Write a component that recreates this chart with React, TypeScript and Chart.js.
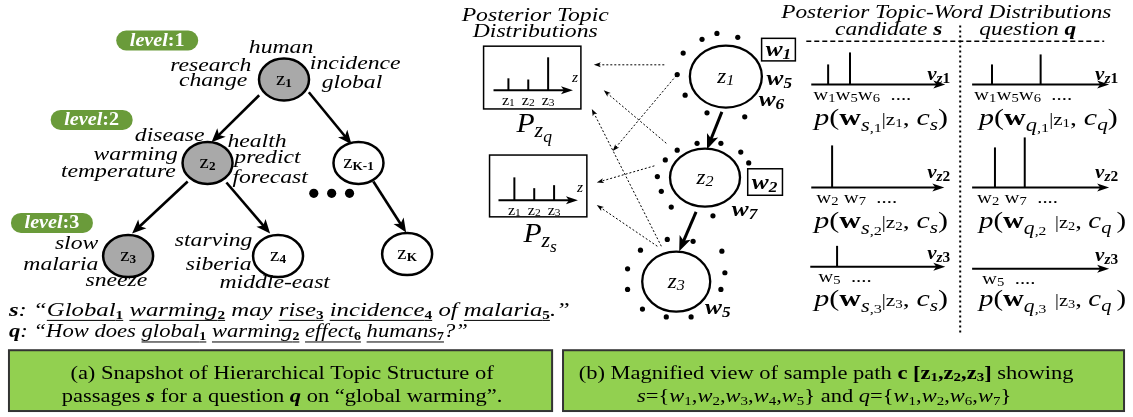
import React, { useEffect, useRef } from "react";
import { Chart, registerables } from "chart.js";
Chart.register(...registerables);

// ---------------- data ----------------
const levelLabels = ["1", "2", "3"];
const levelPillX = [113, 47, 7];
const levelPillY = [27, 108, 213];

const treeNodeSubs = ["1", "2", "K-1", "3", "4", "K"];
const treeNodeX = [282, 205, 357, 125, 276, 406];
const treeNodeY = [77, 162, 162, 257, 257, 255];
const treeNodeShaded = [true, true, false, true, false, false];
const treeEdgeFrom = [[257, 93], [307, 90], [185, 181], [224, 182], [372, 181]];
const treeEdgeTo = [[209, 141], [350, 143], [129, 234], [268, 234], [405, 233]];
const ellipsisX = [312, 330, 348];
const ellipsisY = [193, 193, 193];

const treeWordText = ["human", "research", "change", "incidence", "global", "disease", "warming", "temperature", "health", "predict", "forecast", "slow", "malaria", "sneeze", "starving", "siberia", "middle-east"];
const treeWordX = [279, 249, 245, 308, 320, 202, 175, 173, 225, 232, 230, 95, 95, 82, 172, 183, 217];
const treeWordY = [50, 68, 84, 66, 86, 140, 159, 176, 146, 162, 183, 250, 271, 288, 247, 271, 290];
const treeWordAlign = ["center", "right", "right", "left", "left", "right", "right", "right", "left", "left", "left", "right", "right", "left", "left", "left", "left"];

const topicCats = ["1", "2", "3"];
const pzqValues = [0.2, 0.18, 0.55];
const pzsValues = [0.38, 0.2, 0.25];

const pathNodeSubs = ["1", "2", "3"];
const pathNodeX = [727, 706, 677];
const pathNodeY = [74, 177, 283];

const dotX = [703, 718, 739, 684, 678, 686, 708, 746, 698, 722, 678, 742, 666, 750, 658, 662, 672, 714, 668, 694, 641, 723, 628, 726, 628, 722, 643, 667, 692];
const dotY = [36, 30, 34, 50, 72, 93, 111, 115, 142, 142, 149, 151, 159, 162, 176, 191, 207, 216, 240, 242, 251, 252, 270, 274, 291, 291, 311, 319, 319];

const flowFrom = [[665, 62], [667, 142], [677, 73], [662, 247], [655, 165], [658, 247]];
const flowTo = [[594, 62], [604, 88], [613, 150], [592, 107], [597, 182], [597, 205]];

const vocabRow1 = ["1", "5", "6"];
const vocabRow2 = ["2", "7"];
const vocabRow3 = ["5"];
const pS1 = [0.4, 0.64, 0];
const pQ1 = [0.4, 0, 0.6];
const pS2 = [0.84, 0];
const pQ2 = [0.8, 1.0];
const pS3 = [0.42];
const pQ3 = [0];

const sWords = ["1", "2", "3", "4", "5"];
const qWords = ["1", "2", "6", "7"];

// ---------------- drawing helpers ----------------
const SERIF = '"Liberation Serif", "Times New Roman", serif';
const SX = 1.27;

type Run = { t: string; s: number; i?: boolean; b?: boolean; dy?: number; u?: boolean; c?: string };

function fnt(r: Run) {
  return `${r.i ? "italic " : ""}${r.b ? "bold " : ""}${r.s}px ${SERIF}`;
}

function rich(ctx: CanvasRenderingContext2D, runs: Run[], x: number, y: number, align = "left", sx = SX) {
  let total = 0;
  const ws = runs.map((r) => {
    ctx.font = fnt(r);
    const w = ctx.measureText(r.t).width * sx;
    total += w;
    return w;
  });
  let cx = align === "left" ? x : align === "center" ? x - total / 2 : x - total;
  ctx.textAlign = "left";
  ctx.textBaseline = "alphabetic";
  runs.forEach((r, k) => {
    ctx.font = fnt(r);
    ctx.fillStyle = r.c || "#000";
    ctx.save();
    ctx.translate(cx, y + (r.dy || 0));
    ctx.scale(sx, 1);
    ctx.fillText(r.t, 0, 0);
    ctx.restore();
    if (r.u) {
      ctx.beginPath();
      ctx.strokeStyle = "#000";
      ctx.lineWidth = 1;
      ctx.moveTo(cx, y + 4.5);
      ctx.lineTo(cx + ws[k], y + 4.5);
      ctx.stroke();
    }
    cx += ws[k];
  });
  return total;
}

function arrow(ctx: CanvasRenderingContext2D, x1: number, y1: number, x2: number, y2: number, lw: number, hl: number, hw: number, dash?: number[]) {
  const a = Math.atan2(y2 - y1, x2 - x1);
  const c = Math.cos(a), s = Math.sin(a);
  const bx = x2 - hl * c, by = y2 - hl * s;
  ctx.save();
  ctx.lineWidth = lw;
  ctx.strokeStyle = "#000";
  ctx.fillStyle = "#000";
  if (dash) ctx.setLineDash(dash);
  ctx.beginPath();
  ctx.moveTo(x1, y1);
  ctx.lineTo(x2 - hl * 0.6 * c, y2 - hl * 0.6 * s);
  ctx.stroke();
  ctx.setLineDash([]);
  ctx.beginPath();
  ctx.moveTo(x2, y2);
  ctx.lineTo(bx + (hw / 2) * s, by - (hw / 2) * c);
  ctx.lineTo(x2 - hl * 0.75 * c, y2 - hl * 0.75 * s);
  ctx.lineTo(bx - (hw / 2) * s, by + (hw / 2) * c);
  ctx.closePath();
  ctx.fill();
  ctx.restore();
}

function stems(ctx: CanvasRenderingContext2D, X: (v: number) => number, Y: (v: number) => number, x0: number, x1: number, y: number, values: number[], off: number, spacing: number, unit: number) {
  arrow(ctx, X(x0), Y(y), X(x1), Y(y), 2, 12, 8);
  ctx.save();
  ctx.lineWidth = 2;
  ctx.strokeStyle = "#000";
  values.forEach((v, k) => {
    if (v <= 0) return;
    const xx = X(x0 + off + k * spacing);
    ctx.beginPath();
    ctx.moveTo(xx, Y(y));
    ctx.lineTo(xx, Y(y) - v * unit);
    ctx.stroke();
  });
  ctx.restore();
}

function pLabel(who: string, row: string, spaced: boolean): Run[] {
  return [
    { t: "p", s: 24, i: true },
    { t: "(", s: 24 },
    { t: "w", s: 24, b: true },
    { t: who, s: 18, i: true, dy: 6 },
    { t: "," + row + (spaced ? " " : ""), s: 13, dy: 7 },
    { t: (spaced ? " " : "") + "|", s: 16 },
    { t: "z", s: 17 },
    { t: row, s: 12, dy: 2 },
    { t: ", ", s: 22 },
    { t: "c", s: 24, i: true },
    { t: who + (spaced ? " " : ""), s: 17, i: true, dy: 5 },
    { t: ")", s: 24 },
  ];
}

function wordRuns(list: string[], sep: string): Run[] {
  const out: Run[] = [];
  list.forEach((w, k) => {
    out.push({ t: "w", s: 17 });
    out.push({ t: w, s: 12, dy: 2 });
    if (k < list.length - 1 && sep) out.push({ t: sep, s: 17 });
  });
  out.push({ t: "  ....", s: 17 });
  return out;
}

const diagramPlugin = {
  id: "diagram",
  beforeDraw(chart: any) {
    const ctx = chart.ctx as CanvasRenderingContext2D;
    ctx.save();
    ctx.fillStyle = "#fff";
    ctx.fillRect(0, 0, chart.width, chart.height);
    ctx.restore();
  },
  afterDatasetsDraw(chart: any) {
    const ctx = chart.ctx as CanvasRenderingContext2D;
    const X = (v: number) => chart.scales.x.getPixelForValue(v);
    const Y = (v: number) => chart.scales.y.getPixelForValue(v);
    ctx.save();

    // ---- level pills ----
    levelLabels.forEach((lab, k) => {
      const x = X(levelPillX[k]), y = Y(levelPillY[k]);
      ctx.fillStyle = "#6a9b3a";
      ctx.beginPath();
      (ctx as any).roundRect(x, y, 82, 20, 10);
      ctx.fill();
      rich(ctx, [
        { t: "level", s: 18, i: true, b: true, c: "#fff" },
        { t: ":" + lab, s: 18, b: true, c: "#fff" },
      ], x + 41, y + 15.5, "center", 1.12);
    });

    // ---- tree edges ----
    treeEdgeFrom.forEach((f, k) => {
      const t = treeEdgeTo[k];
      arrow(ctx, X(f[0]), Y(f[1]), X(t[0]), Y(t[1]), 2.6, 14, 12);
    });

    // ---- tree nodes ----
    treeNodeX.forEach((nx, k) => {
      ctx.beginPath();
      ctx.ellipse(X(nx), Y(treeNodeY[k]), 25, 21, 0, 0, Math.PI * 2);
      ctx.fillStyle = treeNodeShaded[k] ? "#a9a9a9" : "#fff";
      ctx.fill();
      ctx.lineWidth = 2.5;
      ctx.strokeStyle = "#000";
      ctx.stroke();
      rich(ctx, [
        { t: "z", s: 19 },
        { t: treeNodeSubs[k], s: 12, b: true, dy: 2 },
      ], X(nx), Y(treeNodeY[k]) + 5, "center", 1.1);
    });

    // ellipsis dots
    ellipsisX.forEach((ex, k) => {
      ctx.beginPath();
      ctx.arc(X(ex), Y(ellipsisY[k]), 4.6, 0, Math.PI * 2);
      ctx.fillStyle = "#000";
      ctx.fill();
    });

    // tree words
    treeWordText.forEach((w, k) => {
      rich(ctx, [{ t: w, s: 18.5, i: true }], X(treeWordX[k]), Y(treeWordY[k]), treeWordAlign[k], 1.28);
    });

    // sentences
    const sub = (t: string): Run => ({ t, s: 12, b: true, dy: 3, u: true });
    const sRuns: Run[] = [
      { t: "s", s: 19.5, i: true, b: true },
      { t: ": “", s: 19.5, i: true },
      { t: "Global", s: 19.5, i: true, u: true }, sub(sWords[0]),
      { t: " ", s: 19.5, i: true },
      { t: "warming", s: 19.5, i: true, u: true }, sub(sWords[1]),
      { t: " may ", s: 19.5, i: true },
      { t: "rise", s: 19.5, i: true, u: true }, sub(sWords[2]),
      { t: " ", s: 19.5, i: true },
      { t: "incidence", s: 19.5, i: true, u: true }, sub(sWords[3]),
      { t: " of ", s: 19.5, i: true },
      { t: "malaria", s: 19.5, i: true, u: true }, sub(sWords[4]),
      { t: ".”", s: 19.5, i: true },
    ];
    rich(ctx, sRuns, X(5), Y(318), "left", 1.27);
    const qRuns: Run[] = [
      { t: "q", s: 19.5, i: true, b: true },
      { t: ": “How does ", s: 19.5, i: true },
      { t: "global", s: 19.5, i: true, u: true }, sub(qWords[0]),
      { t: " ", s: 19.5, i: true },
      { t: "warming", s: 19.5, i: true, u: true }, sub(qWords[1]),
      { t: " ", s: 19.5, i: true },
      { t: "effect", s: 19.5, i: true, u: true }, sub(qWords[2]),
      { t: " ", s: 19.5, i: true },
      { t: "humans", s: 19.5, i: true, u: true }, sub(qWords[3]),
      { t: "?”", s: 19.5, i: true },
    ];
    rich(ctx, qRuns, X(5), Y(340), "left", 1.16);

    // ---- caption boxes ----
    const capBox = (x0: number, x1: number) => {
      ctx.fillStyle = "#92d050";
      ctx.fillRect(X(x0), Y(353), X(x1) - X(x0), Y(415) - Y(353));
      ctx.lineWidth = 2;
      ctx.strokeStyle = "#333";
      ctx.strokeRect(X(x0), Y(353), X(x1) - X(x0), Y(415) - Y(353));
    };
    capBox(5, 552);
    capBox(563, 1128);
    rich(ctx, [{ t: "(a) Snapshot of Hierarchical Topic Structure of", s: 18 }], X(280), Y(382), "center", 1.25);
    rich(ctx, [
      { t: "passages ", s: 18 },
      { t: "s", s: 18, i: true, b: true },
      { t: " for a question ", s: 18 },
      { t: "q", s: 18, i: true, b: true },
      { t: " on “global warming”.", s: 18 },
    ], X(280), Y(406), "center", 1.25);
    rich(ctx, [
      { t: "(b) Magnified view of sample path ", s: 18 },
      { t: "c [z", s: 18, b: true },
      { t: pathNodeSubs[0], s: 12, b: true, dy: 2 },
      { t: ",z", s: 18, b: true },
      { t: pathNodeSubs[1], s: 12, b: true, dy: 2 },
      { t: ",z", s: 18, b: true },
      { t: pathNodeSubs[2], s: 12, b: true, dy: 2 },
      { t: "]", s: 18, b: true },
      { t: " showing", s: 18 },
    ], X(828), Y(382), "center", 1.25);
    const setRuns = (name: string, ws: string[]): Run[] => {
      const r: Run[] = [{ t: name, s: 18, i: true }, { t: "={", s: 18 }];
      ws.forEach((w, k) => {
        r.push({ t: "w", s: 18, i: true });
        r.push({ t: w, s: 12, dy: 3 });
        if (k < ws.length - 1) r.push({ t: ",", s: 18 });
      });
      r.push({ t: "}", s: 18 });
      return r;
    };
    rich(ctx, [...setRuns("s", sWords), { t: " and ", s: 18 }, ...setRuns("q", qWords)], X(826), Y(406), "center", 1.25);

    // ---- posterior topic distributions ----
    rich(ctx, [{ t: "Posterior Topic", s: 18.5, i: true }], X(535), Y(17), "center", 1.28);
    rich(ctx, [{ t: "Distributions", s: 18.5, i: true }], X(535), Y(34), "center", 1.28);
    const topicBox = (bx0: number, by0: number, bx1: number, by1: number, ax0: number, ax1: number, ay: number, vals: number[], off: number, who: string, py: number) => {
      ctx.lineWidth = 1.5;
      ctx.strokeStyle = "#000";
      ctx.strokeRect(X(bx0), Y(by0), X(bx1) - X(bx0), Y(by1) - Y(by0));
      stems(ctx, X, Y, ax0, ax1, ay, vals, off, 20, 60);
      rich(ctx, [{ t: "z", s: 14, i: true }], X(ax1 - 1), Y(ay - 8), "left", 1.1);
      topicCats.forEach((c, k) => {
        rich(ctx, [{ t: "z", s: 14 }, { t: c, s: 10, dy: 1 }], X(ax0 + off + k * 20), Y(ay + 15), "center", 1.15);
      });
      rich(ctx, [
        { t: "P", s: 27, i: true },
        { t: "z", s: 20, i: true, dy: 5 },
        { t: who, s: 16, i: true, dy: 10 },
      ], X((bx0 + bx1) / 2 + 2), Y(py), "center", 1.1);
    };
    topicBox(483, 43, 581, 107, 493, 573, 88, pzqValues, 15, "q", 131);
    topicBox(489, 154, 587, 217, 498, 578, 200, pzsValues, 16, "s", 243);

    // dotted flows
    flowFrom.forEach((f, k) => {
      const t = flowTo[k];
      arrow(ctx, X(f[0]), Y(f[1]), X(t[0]), Y(t[1]), 1, 7, 5, [2, 2]);
    });

    // path arrows
    arrow(ctx, X(723), Y(110), X(708), Y(148), 3, 15, 12);
    arrow(ctx, X(697), Y(212), X(680), Y(252), 3, 15, 12);

    // path nodes
    const prx = [36, 35, 34], pry = [31, 29, 30];
    pathNodeX.forEach((nx, k) => {
      ctx.beginPath();
      ctx.ellipse(X(nx), Y(pathNodeY[k]), prx[k], pry[k], 0, 0, Math.PI * 2);
      ctx.fillStyle = "#fff";
      ctx.fill();
      ctx.lineWidth = 2.3;
      ctx.strokeStyle = "#000";
      ctx.stroke();
      rich(ctx, [{ t: "z", s: 20, i: true }, { t: pathNodeSubs[k], s: 14, i: true, dy: 2 }], X(nx), Y(pathNodeY[k]) + 6, "center", 1.15);
    });

    // word labels near path nodes
    const wRun = (n: string): Run[] => [{ t: "w", s: 22, i: true, b: true }, { t: n, s: 15, i: true, b: true, dy: 3 }];
    ctx.lineWidth = 1.5;
    ctx.strokeStyle = "#000";
    ctx.strokeRect(X(763), Y(35), X(797) - X(763), Y(58) - Y(35));
    rich(ctx, wRun(qWords[0]), X(780), Y(53), "center", 1.15);
    rich(ctx, wRun(sWords[4]), X(768), Y(83), "left", 1.15);
    rich(ctx, wRun(qWords[2]), X(760), Y(104), "left", 1.15);
    ctx.strokeRect(X(749), Y(168), X(784) - X(749), Y(195) - Y(168));
    rich(ctx, wRun(qWords[1]), X(766), Y(189), "center", 1.15);
    rich(ctx, wRun(qWords[3]), X(733), Y(216), "left", 1.15);
    rich(ctx, wRun(sWords[4]), X(706), Y(316), "left", 1.15);

    // ---- posterior topic-word distributions ----
    rich(ctx, [{ t: "Posterior Topic-Word Distributions", s: 18.5, i: true }], X(949), Y(14), "center", 1.26);
    rich(ctx, [{ t: "candidate ", s: 18, i: true }, { t: "s", s: 18, i: true, b: true }], X(891), Y(32), "center", 1.3);
    rich(ctx, [{ t: "question ", s: 18, i: true }, { t: "q", s: 18, i: true, b: true }], X(1031), Y(32), "center", 1.3);
    ctx.save();
    ctx.lineWidth = 1.3;
    ctx.setLineDash([5, 3]);
    ctx.beginPath();
    ctx.moveTo(X(808), Y(38));
    ctx.lineTo(X(1108), Y(38));
    ctx.stroke();
    ctx.lineWidth = 2;
    ctx.setLineDash([2, 3]);
    ctx.beginPath();
    ctx.moveTo(X(963), Y(22));
    ctx.lineTo(X(963), Y(335));
    ctx.stroke();
    ctx.restore();

    const vRun = (n: string): Run[] => [{ t: "v", s: 19, i: true, b: true }, { t: "z", s: 14, i: true, b: true, dy: 3 }, { t: n, s: 14, b: true, dy: 3 }];
    // row 1
    stems(ctx, X, Y, 813, 948, 82, pS1, 17, 22, 50);
    stems(ctx, X, Y, 975, 1113, 82, pQ1, 20, 24.5, 50);
    rich(ctx, vRun(pathNodeSubs[0]), X(953), Y(77), "right", 1.1);
    rich(ctx, vRun(pathNodeSubs[0]), X(1122), Y(77), "right", 1.1);
    rich(ctx, wordRuns(vocabRow1, ""), X(815), Y(98), "left", 1.22);
    rich(ctx, wordRuns(vocabRow1, ""), X(977), Y(98), "left", 1.22);
    rich(ctx, pLabel("s", "1", false), X(816), Y(123), "left", 1.25);
    rich(ctx, pLabel("q", "1", false), X(982), Y(123), "left", 1.25);
    // row 2
    stems(ctx, X, Y, 813, 947, 187, pS2, 21, 30, 50);
    stems(ctx, X, Y, 975, 1113, 187, pQ2, 23, 30, 50);
    rich(ctx, vRun(pathNodeSubs[1]), X(953), Y(177), "right", 1.1);
    rich(ctx, vRun(pathNodeSubs[1]), X(1122), Y(177), "right", 1.1);
    rich(ctx, wordRuns(vocabRow2, " "), X(818), Y(203), "left", 1.22);
    rich(ctx, wordRuns(vocabRow2, " "), X(980), Y(203), "left", 1.22);
    rich(ctx, pLabel("s", "2", false), X(816), Y(228), "left", 1.25);
    rich(ctx, pLabel("q", "2", true), X(982), Y(228), "left", 1.2);
    // row 3
    stems(ctx, X, Y, 812, 948, 268, pS3, 27, 30, 50);
    stems(ctx, X, Y, 975, 1113, 270, pQ3, 27, 30, 50);
    rich(ctx, vRun(pathNodeSubs[2]), X(953), Y(260), "right", 1.1);
    rich(ctx, vRun(pathNodeSubs[2]), X(1122), Y(262), "right", 1.1);
    rich(ctx, wordRuns(vocabRow3, ""), X(820), Y(283), "left", 1.22);
    rich(ctx, wordRuns(vocabRow3, ""), X(985), Y(285), "left", 1.22);
    rich(ctx, pLabel("s", "3", false), X(816), Y(308), "left", 1.25);
    rich(ctx, pLabel("q", "3", true), X(982), Y(308), "left", 1.2);

    ctx.restore();
  },
};

export default function App() {
  const ref = useRef<HTMLCanvasElement | null>(null);
  useEffect(() => {
    document.body.style.margin = "0";
    if (!ref.current) return;
    const points = dotX.map((x, k) => ({ x, y: dotY[k] }));
    const chart = new Chart(ref.current, {
      type: "scatter",
      data: {
        datasets: [
          {
            data: points,
            pointRadius: 2.6,
            pointBackgroundColor: "#000",
            pointBorderWidth: 0,
            clip: false,
          } as any,
        ],
      },
      options: {
        animation: false,
        responsive: false,
        devicePixelRatio: 1,
        events: [],
        layout: { padding: 0 },
        plugins: { legend: { display: false }, tooltip: { enabled: false } },
        scales: {
          x: { type: "linear", min: 0, max: 1133, display: false },
          y: { type: "linear", min: 0, max: 417, reverse: true, display: false },
        },
      },
      plugins: [diagramPlugin],
    });
    return () => chart.destroy();
  }, []);
  return (
    <div style={{ width: 1133, height: 417 }}>
      <canvas ref={ref} width={1133} height={417} />
    </div>
  );
}
